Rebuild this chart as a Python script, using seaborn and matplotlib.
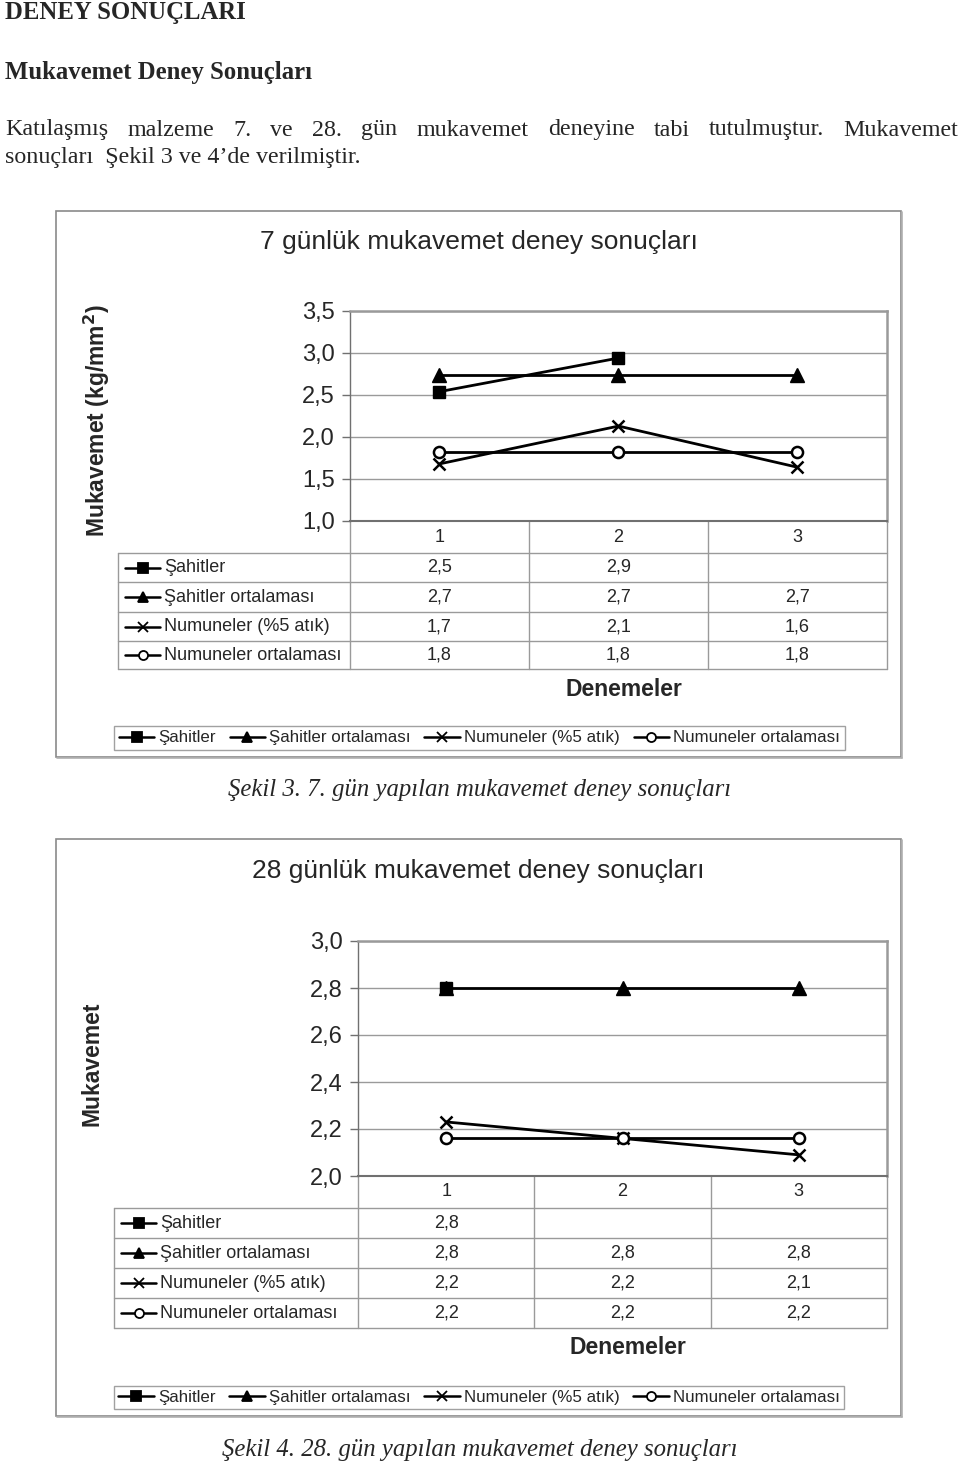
import numpy as np
import pandas as pd
import matplotlib
matplotlib.use('Agg')
import matplotlib.pyplot as plt
from matplotlib.lines import Line2D
from matplotlib.patches import Rectangle
import seaborn as sns

sns.set_style('white')
plt.rcParams['font.family'] = ['Liberation Sans', 'DejaVu Sans']
SERIF = ['Liberation Serif', 'DejaVu Serif']

# ===== veriler =====
denemeler = [1, 2, 3]
seri_adlari = ['Şahitler', 'Şahitler ortalaması', 'Numuneler (%5 atık)', 'Numuneler ortalaması']

gun7_sahitler = [2.54, 2.94]
gun7_sahitler_ort = [2.74, 2.74, 2.74]
gun7_numuneler = [1.68, 2.13, 1.64]
gun7_numuneler_ort = [1.82, 1.82, 1.82]

gun28_sahitler = [2.80]
gun28_sahitler_ort = [2.80, 2.80, 2.80]
gun28_numuneler = [2.23, 2.16, 2.09]
gun28_numuneler_ort = [2.16, 2.16, 2.16]

gun7_yticks = [1.0, 1.5, 2.0, 2.5, 3.0, 3.5]
gun28_yticks = [2.0, 2.2, 2.4, 2.6, 2.8, 3.0]

# seri stilleri (marker, dolgu)
stiller = [('s', 'black'), ('^', 'black'), ('x', 'black'), ('o', 'white')]
boyut = [9, 10, 9, 8]

W, H = 960, 1464
fig = plt.figure(figsize=(W / 100, H / 100), dpi=100)
pg = fig.add_axes([0, 0, 1, 1])
pg.set_xlim(0, W)
pg.set_ylim(H, 0)
pg.axis('off')

def virgul(v):
    return f'{v:.1f}'.replace('.', ',')

# ===== sayfa metni =====
pg.text(5, 13, 'DENEY SONUÇLARI', family=SERIF, fontsize=17.8, weight='bold', va='center')
pg.text(5, 72, 'Mukavemet Deney Sonuçları', family=SERIF, fontsize=17.8, weight='bold', va='center')

satir1 = 'Katılaşmış malzeme 7. ve 28. gün mukavemet deneyine tabi tutulmuştur. Mukavemet'.split()
fig.canvas.draw()
rend = fig.canvas.get_renderer()
kelimeler = [pg.text(0, 130, w, family=SERIF, fontsize=17.3, va='center') for w in satir1]
genislik = [t.get_window_extent(rend).width for t in kelimeler]
bosluk = (958 - 5 - sum(genislik)) / (len(kelimeler) - 1)
x = 5
for t, g in zip(kelimeler, genislik):
    t.set_x(x)
    x += g + bosluk
pg.text(5, 158, 'sonuçları  Şekil 3 ve 4’de verilmiştir.', family=SERIF, fontsize=17.3, va='center')


def grafik(kutu, baslik, baslik_y, ylabel, ylabel_x, alan, yticks, seriler,
           tablo_x0, satirlar, denemeler_y, lejant, sekil, sekil_xy):
    bx0, by0, bx1, by1 = kutu
    pg.add_patch(Rectangle((bx0, by0), bx1 - bx0, by1 - by0, fill=False,
                           edgecolor='#8a8a8a', lw=1.2))
    pg.plot([bx0 + 1, bx1 + 1], [by1 + 1, by1 + 1], color='#b0b0b0', lw=1.2)
    pg.plot([bx1 + 1, bx1 + 1], [by0 + 1, by1 + 1], color='#b0b0b0', lw=1.2)
    pg.text((bx0 + bx1) / 2, baslik_y, baslik, fontsize=19, ha='center', va='center')
    x0, y0, x1, y1 = alan
    pg.text(ylabel_x, (y0 + y1) / 2 + 5, ylabel, fontsize=16.5, weight='bold',
            rotation=90, ha='center', va='center')

    ax = fig.add_axes([x0 / W, 1 - y1 / H, (x1 - x0) / W, (y1 - y0) / H])
    for vals, (mk, fc), ms in zip(seriler, stiller, boyut):
        sns.lineplot(x=denemeler[:len(vals)], y=vals, ax=ax, color='black', lw=2,
                     marker=mk, markersize=ms, markerfacecolor=fc,
                     markeredgecolor='black', markeredgewidth=1.8 if mk in 'xo' else 1)
    ax.set_xlim(0.5, 3.5)
    ax.set_ylim(yticks[0], yticks[-1])
    ax.set_yticks(yticks)
    ax.set_yticklabels([virgul(v) for v in yticks])
    ax.set_xticks([])
    ax.set_xlabel('')
    ax.set_ylabel('')
    ax.yaxis.grid(True, color='#9a9a9a', lw=1)
    ax.tick_params(axis='y', left=True, length=6, width=1, color='#707070',
                   pad=5, labelsize=17)
    for k, s in ax.spines.items():
        s.set_color('#9a9a9a')
        s.set_linewidth(1.8)
    ax.spines['left'].set_color('#707070')
    ax.spines['left'].set_linewidth(1)
    ax.spines['bottom'].set_color('#707070')
    ax.spines['bottom'].set_linewidth(1.5)

    # veri tablosu
    kol = [x0 + (x1 - x0) * i / 3 for i in range(4)]
    ust = satirlar[0]
    cizgi = dict(color='#9a9a9a', lw=1)
    for xc in kol:
        pg.plot([xc, xc], [y1, satirlar[-1]], **cizgi)
    pg.plot([tablo_x0, tablo_x0], [ust, satirlar[-1]], **cizgi)
    for yr in satirlar:
        pg.plot([tablo_x0, x1], [yr, yr], **cizgi)
    for i, d in enumerate(denemeler):
        pg.text((kol[i] + kol[i + 1]) / 2, (y1 + ust) / 2, str(d), fontsize=13,
                ha='center', va='center')
    for r, (ad, vals, (mk, fc)) in enumerate(zip(seri_adlari, seriler, stiller)):
        yc = (satirlar[r] + satirlar[r + 1]) / 2
        pg.plot([tablo_x0 + 7, tablo_x0 + 42], [yc, yc], color='black', lw=1.8)
        pg.plot([tablo_x0 + 24.5], [yc], marker=mk, color='black', markersize=6.5,
                markerfacecolor=fc, markeredgewidth=1.3)
        pg.text(tablo_x0 + 46, yc, ad, fontsize=13, ha='left', va='center')
        for i, v in enumerate(vals):
            pg.text((kol[i] + kol[i + 1]) / 2, yc, virgul(v), fontsize=13,
                    ha='center', va='center')
    pg.text((kol[1] + kol[2]) / 2 + 5, denemeler_y, 'Denemeler', fontsize=16.5,
            weight='bold', ha='center', va='center')

    # lejant
    lx0, ly0, lx1, ly1 = lejant
    tutamak = [Line2D([], [], color='black', lw=1.8, marker=mk, markersize=6.5,
                      markerfacecolor=fc, markeredgewidth=1.3) for mk, fc in stiller]
    leg = fig.legend(tutamak, seri_adlari, loc='center',
                     bbox_to_anchor=((lx0 + lx1) / 2 / W, 1 - (ly0 + ly1) / 2 / H),
                     ncol=4, fontsize=12.2, frameon=True, fancybox=False,
                     edgecolor='#8a8a8a', borderpad=0.25, handlelength=2.1,
                     handletextpad=0.25, columnspacing=0.8, borderaxespad=0)
    leg.get_frame().set_linewidth(1)
    pg.text(sekil_xy[0], sekil_xy[1], sekil, family=SERIF, fontsize=17.8, style='italic',
            ha='left', va='center')


grafik((56, 211, 901, 757), '7 günlük mukavemet deney sonuçları', 242,
       'Mukavemet (kg/mm$^{\\mathbf{2}}$)', 97, (350, 311, 887, 521), gun7_yticks,
       [gun7_sahitler, gun7_sahitler_ort, gun7_numuneler, gun7_numuneler_ort],
       118, [553, 582, 612, 641, 669], 689, (113, 725, 846, 751),
       'Şekil 3. 7. gün yapılan mukavemet deney sonuçları', (228, 790))

grafik((56, 839, 901, 1416), '28 günlük mukavemet deney sonuçları', 871,
       'Mukavemet', 92, (358, 941, 887, 1176), gun28_yticks,
       [gun28_sahitler, gun28_sahitler_ort, gun28_numuneler, gun28_numuneler_ort],
       114, [1208, 1238, 1268, 1298, 1328], 1347, (112, 1384, 846, 1411),
       'Şekil 4. 28. gün yapılan mukavemet deney sonuçları', (222, 1450))

plt.savefig('out.png', dpi=100)
